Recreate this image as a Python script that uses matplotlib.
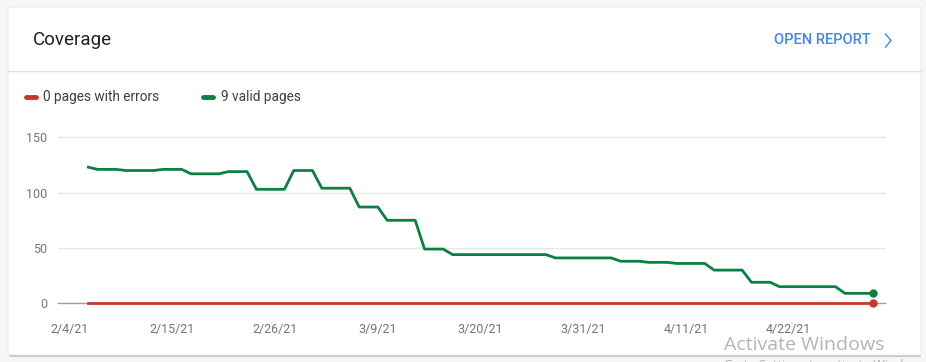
import matplotlib
matplotlib.use("Agg")
import matplotlib.pyplot as plt
import matplotlib.dates as mdates
from matplotlib.patches import FancyBboxPatch
import datetime as dt

# data, one value per day from 2/6/21
start_day = dt.date(2021, 2, 6)
valid_pages = [
    123, 121, 121, 121, 120, 120, 120, 120, 121, 121, 121,
    117, 117, 117, 117, 119, 119, 119, 103, 103, 103, 103,
    120, 120, 120, 104, 104, 104, 104, 87, 87, 87, 75, 75, 75, 75,
    49, 49, 49, 44, 44, 44, 44, 44, 44, 44, 44, 44, 44, 44,
    41, 41, 41, 41, 41, 41, 41, 38, 38, 38, 37, 37, 37,
    36, 36, 36, 36, 30, 30, 30, 30, 19, 19, 19,
    15, 15, 15, 15, 15, 15, 15, 9, 9, 9, 9,
]
error_pages = [
    0, 0, 0, 0, 0, 0, 0, 0, 0, 0, 0, 0, 0, 0, 0, 0, 0, 0, 0, 0, 0,
    0, 0, 0, 0, 0, 0, 0, 0, 0, 0, 0, 0, 0, 0, 0, 0, 0, 0, 0, 0, 0,
    0, 0, 0, 0, 0, 0, 0, 0, 0, 0, 0, 0, 0, 0, 0, 0, 0, 0, 0, 0, 0,
    0, 0, 0, 0, 0, 0, 0, 0, 0, 0, 0, 0, 0, 0, 0, 0, 0, 0, 0, 0, 0, 0,
]
tick_dates = ["2021-02-04", "2021-02-15", "2021-02-26", "2021-03-09",
              "2021-03-20", "2021-03-31", "2021-04-11", "2021-04-22"]
tick_labels = ["2/4/21", "2/15/21", "2/26/21", "3/9/21", "3/20/21",
               "3/31/21", "4/11/21", "4/22/21"]
y_ticks = [0, 50, 100, 150]

GREEN = "#0b8043"
RED = "#c53929"
GRAY_TXT = "#757575"
DARK = "#212121"
BLUE = "#4285f4"

W, H = 926, 362
plt.rcParams['font.family'] = ['Roboto', 'DejaVu Sans']

fig = plt.figure(figsize=(W / 100, H / 100), dpi=100)
fig.patch.set_facecolor("#f6f6f6")

def fx(px):
    return px / W

def fy(py):
    return 1 - py / H

def fig_line(xs, ys, **kw):
    fig.add_artist(plt.Line2D([fx(v) for v in xs], [fy(v) for v in ys],
                              transform=fig.transFigure, **kw))

# card + shadow
shadow = FancyBboxPatch((fx(9), fy(357)), fx(912), (349) / H,
                        boxstyle="round,pad=0,rounding_size=0.003",
                        transform=fig.transFigure, facecolor="#c8c8c8",
                        edgecolor="none", zorder=0)
card = FancyBboxPatch((fx(8), fy(355)), fx(913), (348) / H,
                      boxstyle="round,pad=0,rounding_size=0.003",
                      transform=fig.transFigure, facecolor="white",
                      edgecolor="#e6e6e6", linewidth=0.6, zorder=0)
fig.add_artist(shadow)
fig.add_artist(card)

# header
fig.text(fx(33), fy(40), "Coverage", fontsize=13.5, color=DARK,
         va="center", ha="left")
fig.text(fx(774), fy(40), "OPEN REPORT", fontsize=10.5, color=BLUE,
         va="center", ha="left", fontweight="medium")
fig_line([885.5, 891, 885.5], [34, 40.5, 47], color=BLUE, lw=1.0,
         solid_joinstyle="miter")
fig_line([8, 921], [71, 71], color="#e0e0e0", lw=1)

# legend
fig_line([26, 36], [97, 97], color=RED, lw=3.5, solid_capstyle="round")
fig.text(fx(43), fy(97), "0 pages with errors", fontsize=9.8, color="#3c4043",
         va="center", ha="left")
fig_line([203, 213], [97, 97], color=GREEN, lw=3.5, solid_capstyle="round")
fig.text(fx(221), fy(97), "9 valid pages", fontsize=9.8, color="#3c4043",
         va="center", ha="left")

# chart area
x0, x1 = 58, 885
y_top, y_bot = 137.3, 303.3
ax = fig.add_axes([fx(x0), fy(y_bot), fx(x1 - x0), (y_bot - y_top) / H])
ax.set_facecolor("none")

dates = [start_day + dt.timedelta(days=i) for i in range(len(valid_pages))]
dnum = mdates.date2num(dates)
day_px = 9.34
ax.set_xlim(dnum[0] - (88.3 - x0) / day_px, dnum[0] + (x1 - 88.3) / day_px)
ax.set_ylim(0, 150)

for yv in y_ticks[1:]:
    ax.axhline(yv, color="#e8e8e8", lw=1, zorder=1, clip_on=False)
ax.axhline(0, color="#9e9e9e", lw=1, zorder=1, clip_on=False)

ax.plot(dnum, error_pages, color=RED, lw=2, zorder=3, clip_on=False)
ax.plot(dnum, valid_pages, color=GREEN, lw=2, zorder=4, clip_on=False)
ax.plot(dnum[-1], error_pages[-1], "o", color=RED, ms=5, zorder=5, clip_on=False)
ax.plot(dnum[-1], valid_pages[-1], "o", color=GREEN, ms=5, zorder=5, clip_on=False)

for s in ax.spines.values():
    s.set_visible(False)
ax.set_yticks(y_ticks)
ax.set_yticklabels([str(v) for v in y_ticks])
ax.set_xticks(mdates.date2num([dt.date.fromisoformat(d) for d in tick_dates]))
ax.set_xticklabels(tick_labels)
ax.tick_params(axis="both", length=0, colors=GRAY_TXT, labelsize=9)
ax.tick_params(axis="y", pad=8)
ax.tick_params(axis="x", pad=14)

# windows watermark from the screenshot (cut off at the bottom, as in the original)
fig.text(fx(724), fy(345), "Activate Windows", fontsize=14, color="#b4b4b4",
         va="center", ha="left", family=["Open Sans", "DejaVu Sans"])
fig.text(fx(724), fy(366), "Go to Settings to activate Windows.", fontsize=9,
         color="#b4b4b4", va="center", ha="left",
         family=["Open Sans", "DejaVu Sans"])

fig.savefig("out.png", dpi=100, facecolor=fig.get_facecolor())
